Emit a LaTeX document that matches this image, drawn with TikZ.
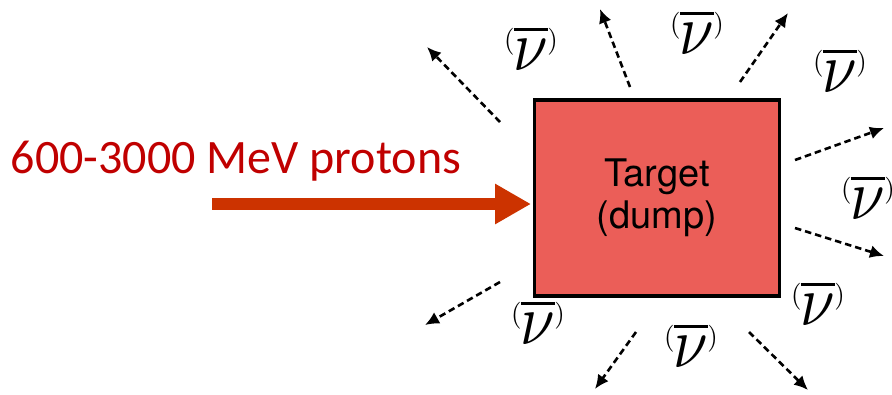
\documentclass[tikz,border=0pt]{standalone}
\usepackage{graphicx}
\usepackage{fontspec}
\setmainfont{TeX Gyre Heros}
\newfontfamily\calibrifont{Carlito}
\usetikzlibrary{arrows.meta}
\definecolor{targetred}{HTML}{EB5E58}
\definecolor{beamred}{HTML}{CC3300}
\definecolor{labelred}{HTML}{C00000}
\newcommand{\nubarlabel}{%
  \raisebox{22pt}{\scalebox{2.7}{$($}}\kern-1pt%
  \scalebox{6.2}[7.2]{$\overline{\nu}$}\kern-1pt%
  \raisebox{22pt}{\scalebox{2.7}{$)$}}}
\tikzset{
	nuarrow/.style={line width=2.6pt, dash pattern=on 6.5pt off 4pt, -{Latex[length=14pt,width=13pt]}},
	nulabel/.style={inner sep=0pt},
}
\begin{document}
\begin{tikzpicture}[x=1pt,y=-1pt]
		\useasboundingbox (0,0) rectangle (892,394);
		\coordinate (A1) at (500,122);
		\coordinate (A2) at (427,47);
		\coordinate (B1) at (630,87);
		\coordinate (B2) at (600,9);
		\coordinate (C1) at (740,82);
		\coordinate (C2) at (788,13);
		\coordinate (D1) at (795,160);
		\coordinate (D2) at (884,128);
		\coordinate (E1) at (795,228);
		\coordinate (E2) at (884,256);
		\coordinate (F1) at (500,282);
		\coordinate (F2) at (425,325);
		\coordinate (G1) at (636,332);
		\coordinate (G2) at (595,389);
		\coordinate (H1) at (749,332);
		\coordinate (H2) at (808,390);
		\coordinate (P1) at (212,204);
		\coordinate (P2) at (531,204);
		\node (T) at (657,198)[draw, line width=3.5pt, fill=targetred, minimum width=245, minimum height=196,
			align=center, font=\fontsize{38}{42}\selectfont] {Target\\(dump)};
		\draw[beamred, line width=12pt, -{Triangle[length=36pt,width=38pt]}] (P1)--(P2);
		\draw[nuarrow] (A1)--(A2);
		\draw[nuarrow] (B1)--(B2);
		\draw[nuarrow] (C1)--(C2);
		\draw[nuarrow] (D1)--(D2);
		\draw[nuarrow] (E1)--(E2);
		\draw[nuarrow] (F1)--(F2);
		\draw[nuarrow] (G1)--(G2);
		\draw[nuarrow] (H1)--(H2);
		\node (N1) at (531,48)[nulabel] {\nubarlabel};
		\node (N2) at (697,32)[nulabel] {\nubarlabel};
		\node (N3) at (840,70)[nulabel] {\nubarlabel};
		\node (N4) at (868,197)[nulabel] {\nubarlabel};
		\node (N5) at (538,322)[nulabel] {\nubarlabel};
		\node (N6) at (691,345)[nulabel] {\nubarlabel};
		\node (N7) at (818,303)[nulabel] {\nubarlabel};
		\node (L) at (236,161)[text=labelred, font=\calibrifont\fontsize{48}{48}\selectfont] {600-3000 MeV protons};
	\end{tikzpicture}
\end{document}
